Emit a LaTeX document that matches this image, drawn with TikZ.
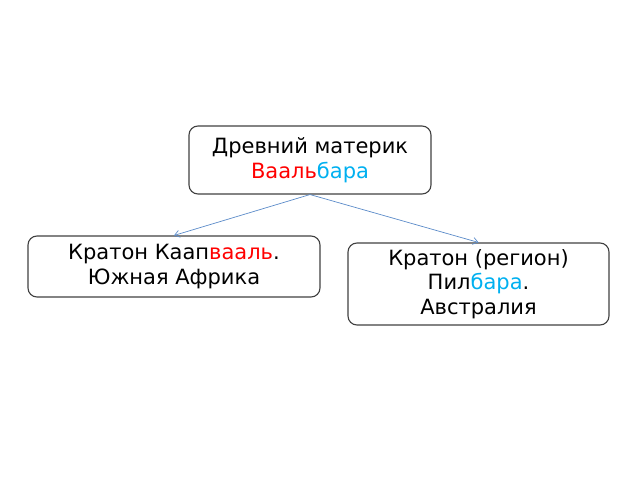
\documentclass[tikz,border=0pt]{standalone}
\usepackage{fontspec}
\setmainfont{DejaVu Sans}
\usetikzlibrary{arrows.meta}
\definecolor{vred}{HTML}{FF0000}
\definecolor{vblue}{HTML}{00B0F0}
\definecolor{lnk}{HTML}{5B8BC9}
\begin{document}
\begin{tikzpicture}[x=1pt,y=1pt,
  box/.style={draw=black!75,line width=1.1pt,rounded corners=9pt,align=center,
    font=\fontsize{21}{24.5}\selectfont,inner sep=0pt},
  link/.style={draw=lnk,line width=0.7pt,-{Straight Barb[length=5pt,width=7pt]}}]
\useasboundingbox (0,0) rectangle (640,480);
\node[box,minimum width=242pt,minimum height=68pt] (top) at (310,320) {Древний материк\\\textcolor{vred}{Вааль}\textcolor{vblue}{бара}};
\node[box,minimum width=292pt,minimum height=61pt] (left) at (174,213.5) {Кратон Каап\textcolor{vred}{вааль}.\\Южная Африка};
\node[box,minimum width=261pt,minimum height=82pt] (right) at (478.5,196) {Кратон (регион)\\Пил\textcolor{vblue}{бара}.\\Австралия};
\draw[link] (top.south) -- (left.north);
\draw[link] (top.south) -- (right.north);
\end{tikzpicture}
\end{document}
